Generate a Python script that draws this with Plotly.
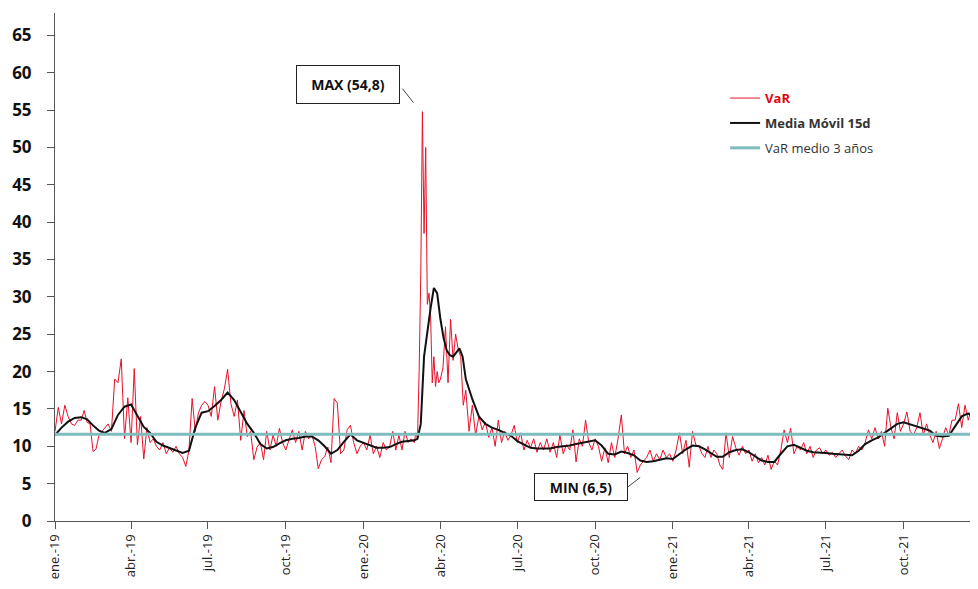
import pandas as pd
import plotly.graph_objects as go

# VaR diario (muestras por mes), en millones
var_2019 = [
    [12.0, 15.2, 13.0, 15.5, 14.0, 13.0, 12.8, 13.5],
    [13.5, 14.8, 13.2, 13.0, 9.3, 9.6, 11.5, 12.0],
    [12.5, 13.0, 12.0, 19.0, 18.5, 21.7, 11.0, 16.5],
    [10.5, 20.4, 10.2, 14.0, 8.3, 12.5, 10.5, 11.0],
    [10.0, 9.5, 10.5, 9.0, 9.8, 9.2, 10.0, 9.0],
    [8.5, 7.3, 9.5, 16.4, 12.0, 14.5, 15.5, 16.0],
    [15.5, 14.0, 18.0, 13.5, 16.0, 17.7, 20.3, 15.7],
    [14.0, 16.2, 10.8, 14.8, 11.3, 12.0, 8.2, 9.9],
    [10.5, 8.2, 12.0, 9.5, 11.5, 10.0, 12.4, 10.5],
    [9.5, 11.0, 12.2, 10.5, 12.0, 9.5, 12.0, 11.0],
    [11.5, 10.0, 7.0, 8.2, 8.6, 9.9, 7.8, 16.4],
    [15.8, 9.0, 9.5, 12.2, 12.8, 10.5, 9.0, 10.0],
]
var_2020 = [
    [10.5, 9.5, 11.5, 9.0, 10.0, 8.5, 10.5, 9.5],
    [10.0, 12.0, 9.5, 11.5, 9.5, 12.0, 10.5, 11.0],
    [10.5, 11.8, 11.0, 20.0, 33.0, 54.8, 38.5, 50.0, 29.0, 30.5, 27.5, 18.5, 22.0, 18.0, 20.0, 18.5],
    [19.0, 20.5, 26.0, 18.5, 27.0, 21.5, 25.0, 23.0, 22.0, 15.5],
    [17.5, 12.0, 15.5, 11.5, 14.0, 12.2, 13.2, 11.2],
    [12.5, 10.0, 13.5, 10.5, 12.0, 10.8, 11.5, 12.8],
    [10.5, 11.8, 9.5, 10.8, 9.8, 11.0, 9.2, 10.5],
    [9.5, 11.0, 9.2, 10.5, 8.5, 11.5, 9.0, 10.2],
    [9.5, 12.2, 7.9, 11.0, 10.0, 13.5, 10.5, 9.5],
    [11.0, 10.0, 8.0, 9.8, 7.8, 10.5, 8.5, 11.0],
    [14.2, 9.0, 10.0, 8.5, 9.5, 6.5, 7.5, 8.0],
    [8.5, 9.5, 8.0, 9.0, 8.2, 9.5, 8.5, 9.0],
]
var_2021 = [
    [8.0, 9.5, 11.8, 9.0, 10.8, 7.2, 12.0, 10.2],
    [10.0, 9.0, 8.5, 10.0, 8.5, 9.5, 9.0, 7.5],
    [6.9, 11.8, 8.5, 11.3, 9.8, 8.8, 10.0, 9.0],
    [9.5, 8.0, 9.0, 7.8, 8.5, 7.5, 8.8, 6.9],
    [8.0, 7.5, 9.5, 12.2, 10.5, 12.4, 9.0, 10.0],
    [9.5, 10.5, 9.0, 10.0, 8.5, 9.5, 9.8, 9.0],
    [9.5, 8.8, 9.2, 8.5, 9.0, 9.5, 8.7, 8.2],
    [9.5, 9.0, 10.0, 9.5, 10.5, 12.2, 11.0, 12.5],
    [11.0, 12.0, 10.0, 15.1, 12.5, 11.0, 14.5, 12.0],
    [13.0, 14.6, 12.0, 11.5, 12.5, 14.5, 11.5, 13.0],
    [11.5, 10.5, 12.0, 9.7, 11.0, 12.5, 11.5, 13.5],
    [13.5, 15.7, 12.5, 15.5, 13.5, 15.2, 13.0, 12.0],
]

# media movil 15 dias
ma_2019 = [
    [11.5, 12.5, 13.3, 13.8], [13.9, 13.6, 12.8, 12.1], [11.8, 12.3, 14.2, 15.3],
    [15.6, 14.0, 12.6, 11.8], [10.6, 10.1, 9.8, 9.5], [9.1, 9.4, 12.5, 14.5],
    [14.7, 15.4, 16.2, 17.2], [16.2, 14.6, 13.0, 11.8], [10.3, 9.7, 9.9, 10.4],
    [10.8, 11.0, 11.1, 11.3], [11.3, 10.8, 10.0, 9.0], [9.5, 10.6, 11.6, 10.8],
]
ma_2020 = [
    [10.5, 10.2, 9.8, 9.8], [9.9, 10.3, 10.6, 10.7],
    [10.8, 11.0, 13.0, 22.0, 25.5, 28.5, 31.2, 30.5],
    [27.0, 24.5, 22.8, 22.2, 22.0, 22.6, 23.1, 22.0],
    [19.0, 16.3, 14.0, 13.0], [12.5, 12.2, 11.8, 11.4], [10.7, 10.2, 9.8, 9.7],
    [9.7, 9.7, 9.9, 10.0], [10.1, 10.3, 10.5, 10.7], [10.8, 10.1, 9.0, 8.9],
    [9.3, 9.1, 8.8, 8.1], [7.9, 8.0, 8.2, 8.4],
]
ma_2021 = [
    [8.3, 9.0, 9.6, 10.1], [10.0, 9.6, 9.1, 8.6], [8.6, 9.2, 9.5, 9.6],
    [9.2, 8.6, 8.1, 7.9], [7.9, 9.0, 10.0, 10.2], [9.8, 9.4, 9.2, 9.1],
    [9.1, 9.0, 8.9, 8.8], [8.8, 9.4, 10.3, 10.8], [11.2, 11.8, 12.4, 13.0],
    [13.2, 12.9, 12.6, 12.3], [12.1, 11.4, 11.3, 11.4], [12.6, 14.0, 14.4, 13.8],
]

var_medio = 11.6

tick_dates = ["2019-01-01", "2019-04-01", "2019-07-01", "2019-10-01",
              "2020-01-01", "2020-04-01", "2020-07-01", "2020-10-01",
              "2021-01-01", "2021-04-01", "2021-07-01", "2021-10-01"]
tick_labels = ["ene.-19", "abr.-19", "jul.-19", "oct.-19",
               "ene.-20", "abr.-20", "jul.-20", "oct.-20",
               "ene.-21", "abr.-21", "jul.-21", "oct.-21"]


def spread(year, months):
    xs, ys = [], []
    for m, vals in enumerate(months):
        start = pd.Timestamp(year, m + 1, 1)
        n = start.days_in_month
        for i, v in enumerate(vals):
            xs.append(start + pd.Timedelta(days=i * n / len(vals)))
            ys.append(v)
    return xs, ys


var_x, var_y = [], []
ma_x, ma_y = [], []
for yr, v, m in [(2019, var_2019, ma_2019), (2020, var_2020, ma_2020), (2021, var_2021, ma_2021)]:
    a, b = spread(yr, v)
    var_x += a
    var_y += b
    a, b = spread(yr, m)
    ma_x += a
    ma_y += b

font = "Open Sans"
fig = go.Figure()
fig.add_trace(go.Scatter(x=var_x, y=var_y, mode="lines", legendgroup="a",
                         name="<b><span style='color:#e30613'>VaR</span></b>",
                         line=dict(color="#e8102a", width=1)))
fig.add_trace(go.Scatter(x=ma_x, y=ma_y, mode="lines", legendgroup="b",
                         name="<b>Media Móvil 15d</b>",
                         line=dict(color="#111111", width=2)))
fig.add_trace(go.Scatter(x=[var_x[0], "2021-12-31"], y=[var_medio, var_medio],
                         mode="lines", legendgroup="c", name="VaR medio 3 años",
                         line=dict(color="#7fbcbd", width=3)))

# MAX / MIN
i_max = max(range(len(var_y)), key=lambda i: var_y[i])
i_min = min(range(len(var_y)), key=lambda i: var_y[i])
box = dict(showarrow=False, bordercolor="#222", borderwidth=1, bgcolor="white",
           font=dict(family=font, size=14, color="#111"), xref="x", yref="y")
fig.add_annotation(x=var_x[i_max], y=var_y[i_max], text="<b>MAX (54,8)</b>",
                   xshift=-74, yshift=27, width=100, height=35, **box)
fig.add_annotation(x=var_x[i_min], y=var_y[i_min], text="<b>MIN (6,5)</b>",
                   xshift=-56, yshift=-15, width=90, height=24, **box)
fig.add_shape(type="line", xref="x", yref="y", xsizemode="pixel", ysizemode="pixel",
              xanchor=var_x[i_max], yanchor=var_y[i_max],
              x0=-20, x1=-9, y0=23, y1=9, line=dict(color="#444", width=1))
fig.add_shape(type="line", xref="x", yref="y", xsizemode="pixel", ysizemode="pixel",
              xanchor=var_x[i_min], yanchor=var_y[i_min],
              x0=-10, x1=3, y0=-15, y1=-5, line=dict(color="#444", width=1))

fig.update_layout(
    width=970, height=581,
    margin=dict(l=47, r=0, t=5, b=68),
    plot_bgcolor="white", paper_bgcolor="white",
    font=dict(family=font, color="#222"),
    legend=dict(x=0.726, y=0.862, xanchor="left", yanchor="top",
                font=dict(family=font, size=13, color="#333"),
                traceorder="grouped", tracegroupgap=5, bgcolor="rgba(0,0,0,0)"),
    showlegend=True,
)
fig.update_xaxes(range=["2019-01-01", "2021-12-28"], tickvals=tick_dates, ticktext=tick_labels,
                 tickangle=-90, ticks="outside", ticklen=7, tickcolor="#555",
                 showline=True, linecolor="#555", linewidth=1, showgrid=False, zeroline=False,
                 automargin=False,
                 tickfont=dict(family=font, size=13, color="#222"))
fig.update_yaxes(range=[0, 68], dtick=5, tick0=0, ticks="outside", ticklen=7, tickcolor="#555",
                 showline=True, linecolor="#555", linewidth=1, showgrid=False, zeroline=False,
                 ticklabelstandoff=12, automargin=False,
                 tickfont=dict(family=font, size=17, color="#111", weight="bold"))

fig.write_html("out.html")
